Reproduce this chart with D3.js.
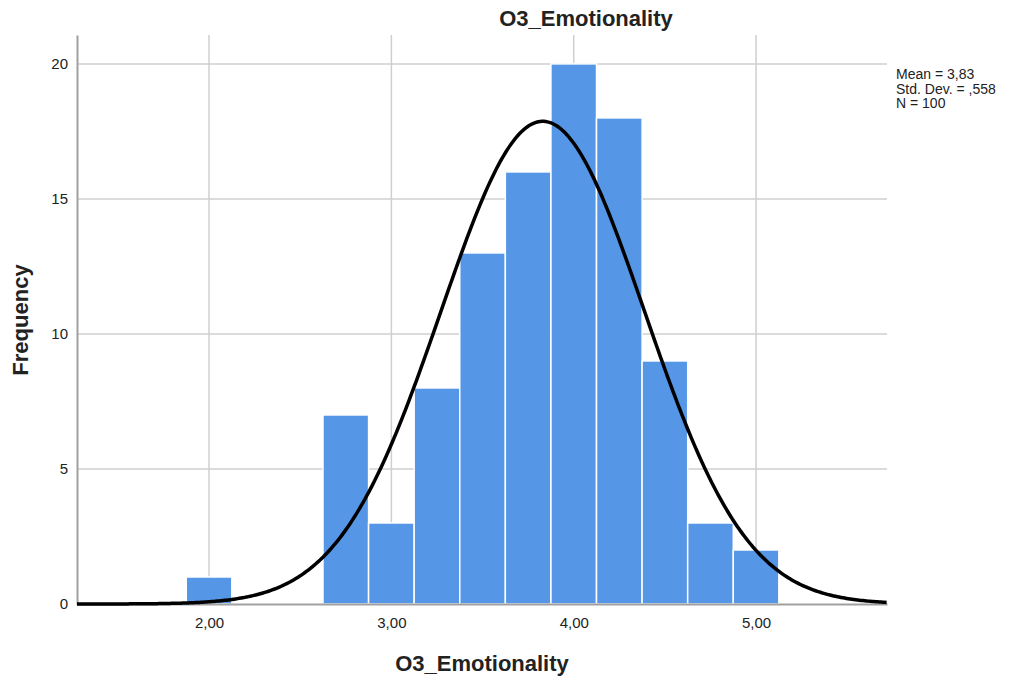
<!DOCTYPE html>
<html>
<head>
<meta charset="utf-8">
<script src="https://cdn.jsdelivr.net/npm/d3@7"></script>
<style>
  body { margin: 0; background: #fff; }
  text { font-family: 'Liberation Sans', Arial, sans-serif; }
</style>
</head>
<body>
<svg id="chart" width="1011" height="680"></svg>
<script>
const binStarts = [1.875, 2.625, 2.875, 3.125, 3.375, 3.625, 3.875, 4.125, 4.375, 4.625, 4.875]
const counts = [1, 7, 3, 8, 13, 16, 20, 18, 9, 3, 2]
const binWidth = 0.25
const xTicks = [2, 3, 4, 5]
const yTicks = [0, 5, 10, 15, 20]
const stats = { mean: 3.83, sd: 0.558, n: 100 }
const statLabels = ['Mean = 3,83', 'Std. Dev. = ,558', 'N = 100']

const svg = d3.select('#chart')
const margin = { top: 35, left: 77, right: 124, bottom: 76 }
const width = 1011 - margin.left - margin.right
const height = 680 - margin.top - margin.bottom
const g = svg.append('g').attr('transform', `translate(${margin.left},${margin.top})`)

const x = d3.scaleLinear().domain([1.276, 5.718]).range([0, width])
const y = d3.scaleLinear().domain([0, 21.07]).range([height, 0])
const fmt = (d) => d3.format('.2f')(d).replace('.', ',')

// grid
g.append('g').selectAll('line').data(xTicks).enter().append('line')
  .attr('x1', (d) => x(d)).attr('x2', (d) => x(d))
  .attr('y1', 0).attr('y2', height)
  .style('stroke', '#cfcfcf').style('stroke-width', 1.5)
g.append('g').selectAll('line').data(yTicks.slice(1)).enter().append('line')
  .attr('x1', 0).attr('x2', width)
  .attr('y1', (d) => y(d)).attr('y2', (d) => y(d))
  .style('stroke', '#cfcfcf').style('stroke-width', 1.5)

// bars
g.append('g').selectAll('rect').data(counts).enter().append('rect')
  .attr('x', (d, i) => x(binStarts[i]))
  .attr('width', (d, i) => x(binStarts[i] + binWidth) - x(binStarts[i]))
  .attr('y', (d) => y(d))
  .attr('height', (d) => height - y(d))
  .style('fill', '#5596e6')
  .style('stroke', '#fff')
  .style('stroke-width', 1.5)

// axes
const xAxis = g.append('g').attr('transform', `translate(0,${height})`)
  .call(d3.axisBottom(x).tickValues(xTicks).tickFormat(fmt).tickSize(0).tickPadding(13))
const yAxis = g.append('g')
  .call(d3.axisLeft(y).tickValues(yTicks).tickSize(0).tickPadding(9))
;[xAxis, yAxis].forEach((a) => {
  a.select('.domain').style('stroke', '#a0a0a0').style('stroke-width', 2)
  a.selectAll('text').style('font-size', '15px').style('fill', '#222')
    .style('font-family', "'Liberation Sans', Arial, sans-serif")
})

// normal curve
const pdf = (v) => Math.exp(-0.5 * ((v - stats.mean) / stats.sd) ** 2) / (stats.sd * Math.sqrt(2 * Math.PI))
const xs = d3.range(x.domain()[0], x.domain()[1] + 0.001, 0.01)
g.append('path')
  .datum(xs)
  .attr('d', d3.line().x((d) => x(d)).y((d) => y(stats.n * binWidth * pdf(d))))
  .style('fill', 'none')
  .style('stroke', '#000')
  .style('stroke-width', 3.5)

// titles
svg.append('text').attr('x', 586).attr('y', 26)
  .style('text-anchor', 'middle').style('font-size', '22px').style('font-weight', 'bold')
  .style('fill', '#222').text('O3_Emotionality')
svg.append('text').attr('x', 482).attr('y', 671)
  .style('text-anchor', 'middle').style('font-size', '22px').style('font-weight', 'bold')
  .style('fill', '#222').text('O3_Emotionality')
svg.append('text').attr('transform', 'translate(28,320) rotate(-90)')
  .style('text-anchor', 'middle').style('font-size', '22px').style('font-weight', 'bold')
  .style('fill', '#222').text('Frequency')

svg.append('g').selectAll('text').data(statLabels).enter().append('text')
  .attr('x', 896).attr('y', (d, i) => 79 + i * 14.5)
  .style('font-size', '14px').style('fill', '#222').text((d) => d)
</script>
</body>
</html>
